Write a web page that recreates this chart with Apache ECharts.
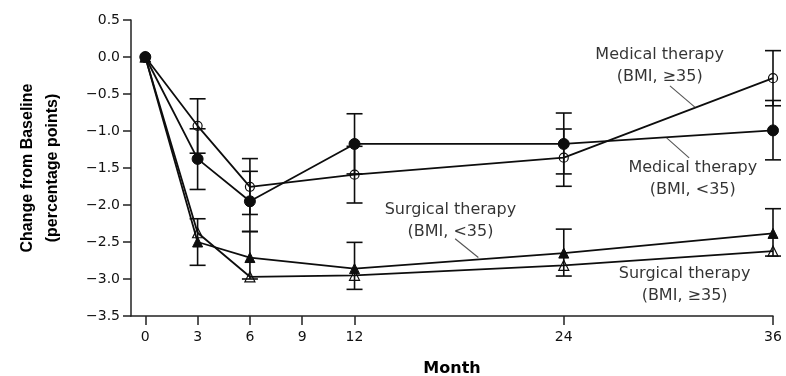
<!DOCTYPE html>
<html><head><meta charset="utf-8">
<script src="https://cdn.jsdelivr.net/npm/echarts@6/dist/echarts.min.js"></script>
<style>html,body{margin:0;padding:0;background:#fff}#c{width:786px;height:376px}</style>
</head><body><div id="c"></div>
<script>
// ---- data ----
const months = [0, 3, 6, 12, 24, 36];
const xTickValues = [0, 3, 6, 9, 12, 24, 36];

// Medical therapy (BMI, >=35) - open circles
const medHigh   = [0, -0.93, -1.755, -1.59, -1.36, -0.286];
const medHighLo = [null, -1.30, -2.128, -1.973, -1.747, -0.659];
const medHighHi = [null, -0.565, -1.373, -1.207, -0.973, 0.086];

// Medical therapy (BMI, <35) - filled circles
const medLow   = [0, -1.377, -1.95, -1.175, -1.175, -0.992];
const medLowLo = [null, -1.79, -2.357, -1.58, -1.58, -1.39];
const medLowHi = [null, -0.97, -1.545, -0.767, -0.757, -0.588];

// Surgical therapy (BMI, <35) - filled triangles
const surLow   = [0, -2.5, -2.71, -2.86, -2.65, -2.384];
const surLowLo = [null, -2.815, -3.0, -3.14, -2.96, -2.69];
const surLowHi = [null, -2.186, -2.36, -2.505, -2.326, -2.05];

// Surgical therapy (BMI, >=35) - open triangles
const surHigh = [0, -2.375, -2.97, -2.95, -2.815, -2.623];

// annotation labels (month, value, text) and leader lines (data coords)
const noteText = ['Medical therapy\n(BMI, ≥35)', 'Medical therapy\n(BMI, <35)', 'Surgical therapy\n(BMI, <35)', 'Surgical therapy\n(BMI, ≥35)'];
const noteX = [29.5, 31.4, 17.5, 30.93];
const noteY = [-0.118, -1.645, -2.218, -3.085];
const leaders = [
  [[30.09, -0.39], [31.52, -0.677]],
  [[29.9, -1.094], [31.19, -1.364]],
  [[17.77, -2.456], [19.1, -2.71]]
];

// ---- chart ----
const ink = '#0d0d0d';
function pairs(ys) { return months.map((m, i) => [m, ys[i]]); }
function errData(lo, hi) {
  const out = [];
  months.forEach((m, i) => { if (lo[i] !== null) out.push([m, lo[i], hi[i]]); });
  return out;
}
function renderErr(params, api) {
  const x = api.value(0), lo = api.value(1), hi = api.value(2);
  const a = api.coord([x, lo]), b = api.coord([x, hi]);
  const w = 8;
  const st = { stroke: ink, lineWidth: 1.6 };
  return { type: 'group', children: [
    { type: 'line', shape: { x1: a[0], y1: a[1], x2: b[0], y2: b[1] }, style: st },
    { type: 'line', shape: { x1: a[0] - w, y1: a[1], x2: a[0] + w, y2: a[1] }, style: st },
    { type: 'line', shape: { x1: b[0] - w, y1: b[1], x2: b[0] + w, y2: b[1] }, style: st }
  ]};
}
function errSeries(lo, hi) {
  return { type: 'custom', renderItem: renderErr, data: errData(lo, hi),
           encode: { x: 0, y: [1, 2] }, z: 2, silent: true };
}
function lineSeries(ys, symbol, size, filled) {
  return { type: 'line', data: pairs(ys), symbol: symbol, symbolSize: size,
    showAllSymbol: true, z: 3, silent: true,
    lineStyle: { color: ink, width: 1.8 },
    itemStyle: filled ? { color: ink, borderColor: ink, borderWidth: 1 }
                      : { color: 'rgba(0,0,0,0)', borderColor: ink, borderWidth: 1.2 } };
}

const chart = echarts.init(document.getElementById('c'), null, { renderer: 'canvas' });
chart.setOption({
  animation: false,
  backgroundColor: '#fff',
  grid: { left: 131, right: 13, top: 20, bottom: 60, containLabel: false, outerBoundsMode: 'none' },
  xAxis: {
    type: 'value', min: -0.82, max: 36,
    name: 'Month', nameLocation: 'middle', nameGap: 45,
    nameTextStyle: { fontFamily: 'DejaVu Sans', fontWeight: 'bold', fontSize: 16, color: '#000' },
    axisLine: { show: true, onZero: false, lineStyle: { color: '#222', width: 1.5 } },
    axisTick: { show: true, length: 9, customValues: xTickValues, lineStyle: { color: '#222', width: 1.5 } },
    axisLabel: { customValues: xTickValues, margin: 14, fontFamily: 'DejaVu Sans', fontSize: 14, color: '#111' },
    splitLine: { show: false }
  },
  yAxis: {
    type: 'value', min: -3.5, max: 0.5, interval: 0.5,
    name: 'Change from Baseline\n(percentage points)', nameLocation: 'middle', nameGap: 66, nameRotate: 90,
    nameTextStyle: { fontFamily: 'Liberation Sans', fontWeight: 'bold', fontSize: 16, lineHeight: 25, color: '#000' },
    axisLine: { show: true, onZero: false, lineStyle: { color: '#222', width: 1.5 } },
    axisTick: { show: true, length: 8, lineStyle: { color: '#222', width: 1.5 } },
    axisLabel: { margin: 11, fontFamily: 'DejaVu Sans', fontSize: 14, color: '#111',
      formatter: v => (v < 0 ? '\u2212' : '') + Math.abs(v).toFixed(1) },
    splitLine: { show: false }
  },
  series: [
    errSeries(medHighLo, medHighHi),
    errSeries(medLowLo, medLowHi),
    errSeries(surLowLo, surLowHi),
    lineSeries(surHigh, 'triangle', 10, false),
    lineSeries(surLow, 'triangle', 10, true),
    lineSeries(medHigh, 'circle', 9, false),
    lineSeries(medLow, 'circle', 11, true),
    {
      type: 'scatter', symbolSize: 0, silent: true, z: 5,
      data: noteText.map((t, i) => [noteX[i], noteY[i], t]),
      label: { show: true, position: 'inside', formatter: p => p.value[2],
        fontFamily: 'DejaVu Sans', fontSize: 16, lineHeight: 22, color: '#000', align: 'center', verticalAlign: 'middle' },
      markLine: { silent: true, symbol: ['none', 'none'], label: { show: false },
        lineStyle: { color: '#555', width: 1.1, type: 'solid' },
        data: leaders.map(l => [{ coord: l[0] }, { coord: l[1] }]) }
    }
  ]
});
</script>
</body></html>
